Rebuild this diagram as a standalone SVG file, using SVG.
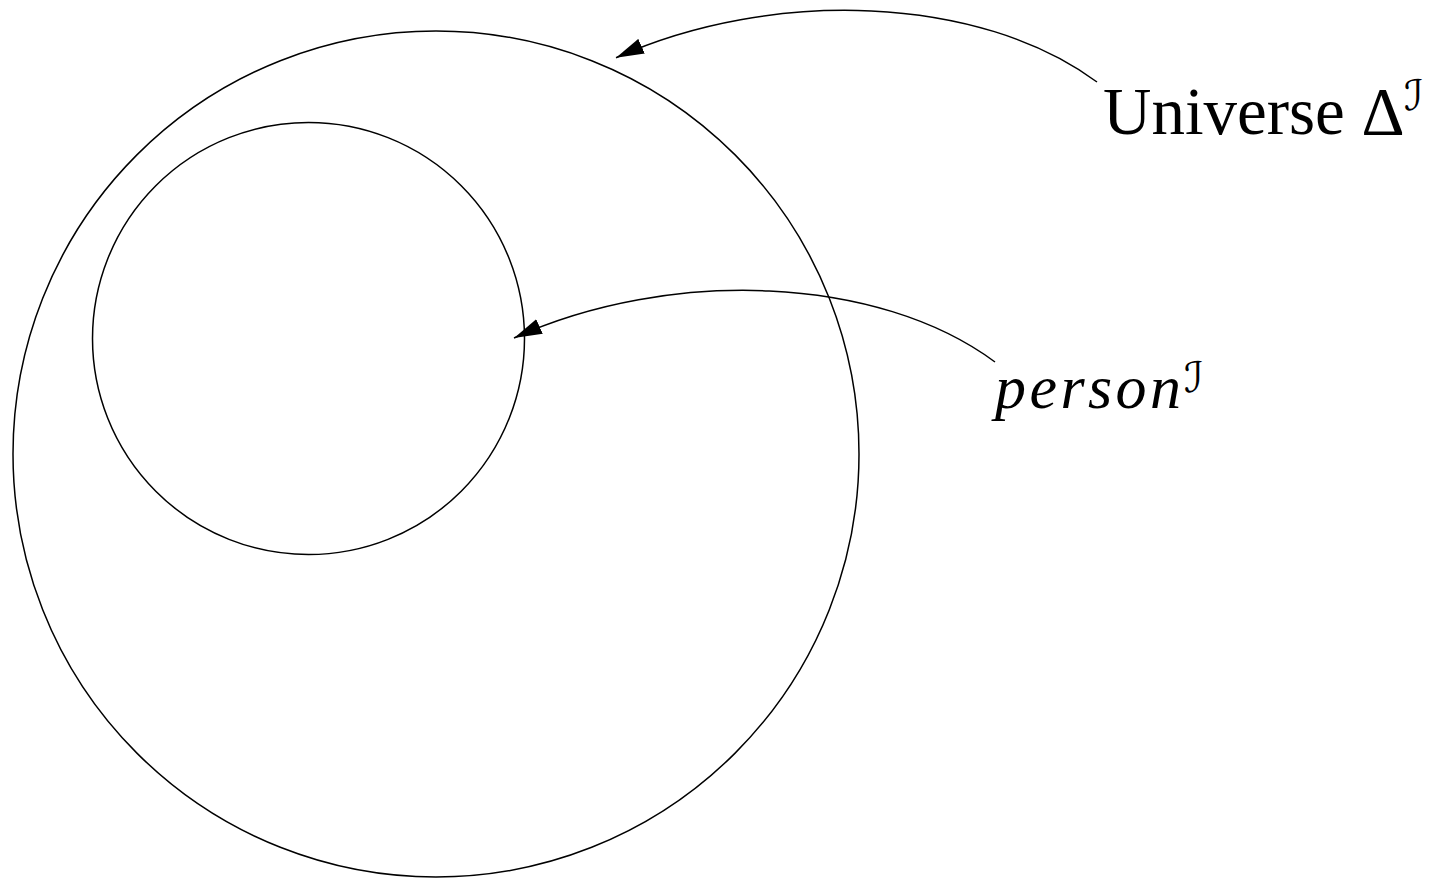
<svg xmlns="http://www.w3.org/2000/svg" width="1448" height="879" viewBox="0 0 1448 879">
<style>
.set{fill:none;stroke:#000;stroke-width:1.5}
.conn{fill:none;stroke:#000;stroke-width:1.5}
.lbl{font-family:"Liberation Serif","Times New Roman",serif;fill:#000}
.cal{font-family:"DejaVu Sans","DejaVu Serif",sans-serif;font-style:italic;fill:#000}
</style>
<defs>
<marker id="ah" markerUnits="userSpaceOnUse" viewBox="0 0 28 16" markerWidth="28" markerHeight="16" refX="28" refY="8" orient="auto">
<path d="M0,0 L28,8 L0,16 z" fill="#000"/>
</marker>
</defs>
<rect width="1448" height="879" fill="#fff"/>
<g id="universe">
<circle class="set" cx="436" cy="454" r="423"/>
</g>
<g id="person">
<circle class="set" cx="308.5" cy="338.5" r="216"/>
</g>
<g id="connectors">
<path class="conn" marker-end="url(#ah)" d="M1097,82 C980,-5 772,-12.5 616,57.7"/>
<path class="conn" marker-end="url(#ah)" d="M995,362 C878,275 670,267.5 514,338"/>
</g>
<g id="label-universe">
<text class="lbl" x="1103" y="134" font-size="67">Universe Δ</text>
<text class="cal" x="1404" y="110" font-size="42">ℐ</text>
</g>
<g id="label-person">
<text class="lbl" x="995" y="408" font-size="62" font-style="italic" textLength="186" lengthAdjust="spacing">person</text>
<text class="cal" x="1184" y="392" font-size="42">ℐ</text>
</g>
</svg>
